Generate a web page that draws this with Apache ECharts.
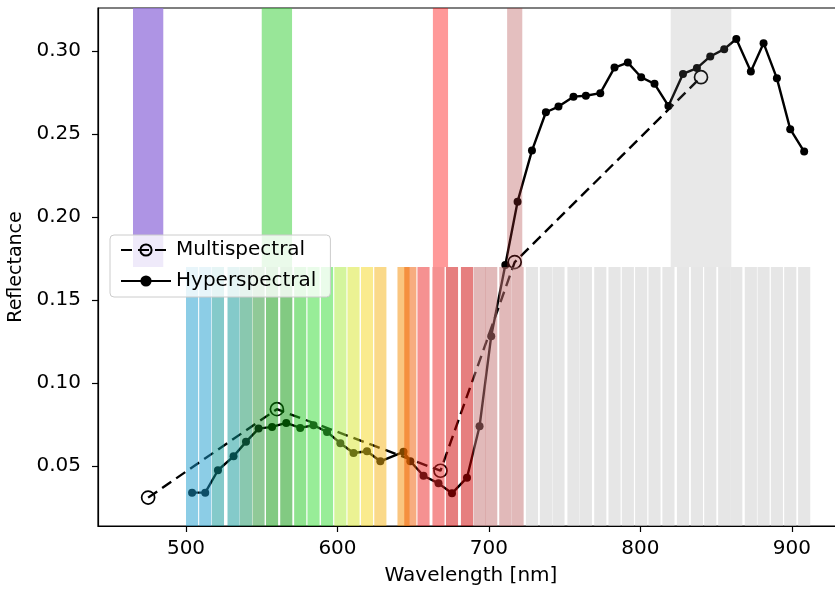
<!DOCTYPE html>
<html>
<head>
<meta charset="utf-8">
<script src="https://cdn.jsdelivr.net/npm/echarts@6/dist/echarts.min.js"></script>
<style>html,body{margin:0;padding:0;background:#fff}#c{width:835px;height:589px}</style>
</head>
<body>
<div id="c"></div>
<script>
// ---- data ----
const msWl = [475, 560, 668, 717, 840];
const msVal = [0.0308, 0.0841, 0.0470, 0.1727, 0.2841];
const msBandWidth = [20, 20, 10, 10, 40];

const hsWl = [504.0, 512.7, 521.1, 531.4, 539.6, 547.9, 556.8, 566.2, 575.4, 584.2, 593.1,
  601.9, 610.6, 619.5, 628.3, 643.6, 648.1, 656.8, 666.7, 675.6, 685.5, 693.8, 701.5, 710.8,
  718.9, 728.4, 737.6, 745.9, 755.8, 764.0, 773.5, 782.9, 791.7, 800.5, 809.3, 818.5, 828.1,
  837.3, 846.1, 855.3, 863.3, 872.9, 881.3, 890.1, 898.9, 908.1];
const hsVal = [0.0338, 0.0338, 0.0473, 0.0557, 0.0644, 0.0724, 0.0734, 0.0758, 0.0728,
  0.0744, 0.0704, 0.0636, 0.0577, 0.0587, 0.0527, 0.0584, 0.0527, 0.0440, 0.0394, 0.0334,
  0.0428, 0.0738, 0.1281, 0.1709, 0.2091, 0.2399, 0.2630, 0.2664, 0.2724, 0.2729, 0.2745,
  0.2899, 0.2929, 0.2841, 0.2801, 0.2668, 0.2861, 0.2896, 0.2966, 0.3010, 0.3071, 0.2876,
  0.3046, 0.2834, 0.2528, 0.2393];
const hsBandWidth = 8;

const xTicks = [500, 600, 700, 800, 900];
const yTicks = [0.05, 0.10, 0.15, 0.20, 0.25, 0.30];
const xMin = 441.9, xMax = 934.4;
const yMin = 0.0137, yMax = 0.3258;
const yMid = (yMin + yMax) / 2;

// ---- styles ----
const msColors = ['rgba(147,112,219,0.75)', 'rgba(50,205,50,0.5)', 'rgba(255,0,0,0.4)',
  'rgba(165,42,42,0.3)', 'rgba(128,128,128,0.18)'];
function hsColor(wl) {
  if (wl < 518) return 'rgba(25,155,205,0.5)';
  if (wl < 536) return 'rgba(10,150,150,0.5)';
  if (wl < 544) return 'rgba(20,145,95,0.5)';
  if (wl < 552) return 'rgba(20,140,35,0.47)';
  if (wl < 571) return 'rgba(5,150,5,0.5)';
  if (wl < 579) return 'rgba(30,200,30,0.5)';
  if (wl < 597) return 'rgba(50,220,50,0.5)';
  if (wl < 606) return 'rgba(170,235,60,0.5)';
  if (wl < 615) return 'rgba(215,230,40,0.5)';
  if (wl < 624) return 'rgba(245,215,30,0.5)';
  if (wl < 635) return 'rgba(245,180,20,0.5)';
  if (wl < 646) return 'rgba(245,140,0,0.5)';
  if (wl < 652) return 'rgba(240,90,0,0.5)';
  if (wl < 671) return 'rgba(235,35,35,0.5)';
  if (wl < 690) return 'rgba(205,0,0,0.5)';
  if (wl < 724) return 'rgba(195,115,115,0.5)';
  return 'rgba(205,205,205,0.5)';
}

const FONT = 'DejaVu Sans';
const chart = echarts.init(document.getElementById('c'), null, {renderer: 'canvas'});

function bandRender(lo, hi, colorFn) {
  return function (params, api) {
    const wl = api.value(0), w = api.value(1);
    const p0 = api.coord([wl - w / 2, hi]);
    const p1 = api.coord([wl + w / 2, lo]);
    return {
      type: 'rect',
      shape: {x: p0[0], y: p0[1], width: p1[0] - p0[0], height: p1[1] - p0[1]},
      style: {fill: colorFn(wl, params.dataIndex)}
    };
  };
}

chart.setOption({
  animation: false,
  backgroundColor: '#fff',
  grid: {left: 98, top: 8, width: 746, height: 518, outerBoundsMode: 'none', containLabel: false,
    show: true, borderColor: '#000', borderWidth: 1.2, backgroundColor: 'transparent'},
  legend: {
    orient: 'vertical', left: 110, top: 235,
    data: ['Multispectral', 'Hyperspectral'],
    itemWidth: 50, itemHeight: 14, itemGap: 11,
    padding: [5, 14, 6, 10],
    backgroundColor: 'rgba(255,255,255,0.8)', borderColor: '#cccccc', borderWidth: 1, borderRadius: 4,
    textStyle: {fontFamily: FONT, fontSize: 20, color: '#000'},
    z: 10
  },
  xAxis: {
    type: 'value', min: xMin, max: xMax,
    name: 'Wavelength [nm]', nameLocation: 'middle', nameGap: 40,
    nameTextStyle: {fontFamily: FONT, fontSize: 20, color: '#000'},
    axisLine: {show: true, onZero: false, lineStyle: {color: '#000', width: 1.2}},
    axisTick: {show: true, length: 6, lineStyle: {color: '#000', width: 1.2}, customValues: xTicks},
    axisLabel: {fontFamily: FONT, fontSize: 20, color: '#000', margin: 13, customValues: xTicks, formatter: v => String(Math.round(v))},
    splitLine: {show: false}
  },
  yAxis: {
    type: 'value', min: yMin, max: yMax,
    name: 'Reflectance', nameLocation: 'middle', nameGap: 72,
    nameTextStyle: {fontFamily: FONT, fontSize: 19, color: '#000'},
    axisLine: {show: true, onZero: false, lineStyle: {color: '#000', width: 1.2}},
    axisTick: {show: true, length: 6, lineStyle: {color: '#000', width: 1.2}, customValues: yTicks},
    axisLabel: {fontFamily: FONT, fontSize: 20, color: '#000', margin: 17, customValues: yTicks, formatter: v => v.toFixed(2)},
    splitLine: {show: false}
  },
  series: [
    {
      name: 'Multispectral', type: 'line', z: 2,
      data: msWl.map((w, i) => [w, msVal[i]]),
      symbol: 'circle', symbolSize: 13,
      lineStyle: {color: '#000', width: 2.4, type: [11, 6]},
      itemStyle: {color: 'rgba(0,0,0,0)', borderColor: '#000', borderWidth: 1.7},
      emphasis: {disabled: true}
    },
    {
      name: 'Hyperspectral', type: 'line', z: 2,
      data: hsWl.map((w, i) => [w, hsVal[i]]),
      symbol: 'circle', symbolSize: 8,
      lineStyle: {color: '#000', width: 2.4},
      itemStyle: {color: '#000'},
      emphasis: {disabled: true}
    },
    {
      type: 'custom', z: 5, silent: true,
      data: hsWl.map(w => [w, hsBandWidth]),
      renderItem: bandRender(yMin, yMid, (wl) => hsColor(wl)),
      clip: true
    },
    {
      type: 'custom', z: 5, silent: true,
      data: msWl.map((w, i) => [w, msBandWidth[i]]),
      renderItem: bandRender(yMid, yMax, (wl, i) => msColors[i]),
      clip: true
    }
  ]
});
</script>
</body>
</html>
